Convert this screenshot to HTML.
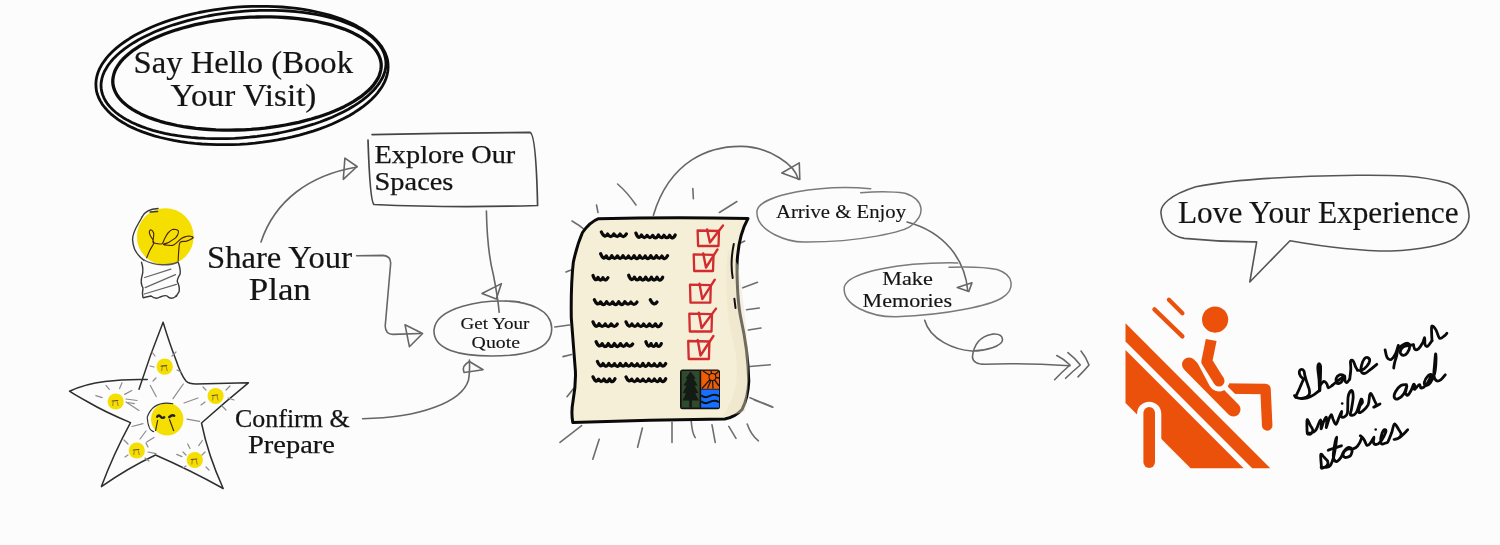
<!DOCTYPE html>
<html><head><meta charset="utf-8">
<style>
html,body{margin:0;padding:0;background:#fcfcfc;}
body{width:1500px;height:545px;overflow:hidden;}
svg{display:block;will-change:transform;}
.t{font-family:"Liberation Serif",serif;fill:#141414;stroke:#141414;stroke-width:0.35px;}
</style></head>
<body>
<svg width="1500" height="545" viewBox="0 0 1500 545">
<g fill="none" stroke="#0d0d0d" stroke-linejoin="round">
<path d="M381.2 64.1 L381.2 67.1 L380.8 70.0 L380.1 73.0 L379.1 75.9 L377.6 78.9 L375.8 81.8 L373.7 84.8 L371.2 87.7 L368.3 90.5 L365.1 93.3 L361.7 96.1 L357.8 98.7 L353.7 101.4 L349.3 103.9 L344.6 106.4 L339.7 108.7 L334.5 111.0 L329.0 113.2 L323.4 115.2 L317.5 117.2 L311.4 119.0 L305.1 120.7 L298.7 122.3 L292.2 123.7 L285.5 125.0 L278.7 126.2 L271.8 127.2 L264.9 128.1 L257.9 128.8 L250.9 129.4 L243.9 129.8 L236.9 130.0 L229.9 130.1 L222.9 130.1 L216.0 129.9 L209.3 129.5 L202.6 129.0 L196.0 128.4 L189.6 127.5 L183.3 126.6 L177.2 125.5 L171.3 124.2 L165.6 122.8 L160.1 121.3 L154.9 119.6 L149.9 117.9 L145.2 115.9 L140.7 113.9 L136.6 111.8 L132.8 109.6 L129.2 107.2 L126.0 104.8 L123.1 102.3 L120.6 99.7 L118.4 97.0 L116.6 94.3 L115.1 91.5 L114.0 88.7 L113.2 85.8 L112.8 82.9 L112.8 79.9 L113.2 77.0 L113.9 74.0 L114.9 71.1 L116.4 68.1 L118.2 65.2 L120.3 62.2 L122.8 59.3 L125.7 56.5 L128.9 53.7 L132.3 50.9 L136.2 48.3 L140.3 45.6 L144.7 43.1 L149.4 40.6 L154.3 38.3 L159.5 36.0 L165.0 33.8 L170.6 31.8 L176.5 29.8 L182.6 28.0 L188.9 26.3 L195.3 24.7 L201.8 23.3 L208.5 22.0 L215.3 20.8 L222.2 19.8 L229.1 18.9 L236.1 18.2 L243.1 17.6 L250.1 17.2 L257.1 17.0 L264.1 16.9 L271.1 16.9 L278.0 17.1 L284.7 17.5 L291.4 18.0 L298.0 18.6 L304.4 19.5 L310.7 20.4 L316.8 21.5 L322.7 22.8 L328.4 24.2 L333.9 25.7 L339.1 27.4 L344.1 29.1 L348.8 31.1 L353.3 33.1 L357.4 35.2 L361.2 37.4 L364.8 39.8 L368.0 42.2 L370.9 44.7 L373.4 47.3 L375.6 50.0 L377.4 52.7 L378.9 55.5 L380.0 58.3 L380.8 61.2 Z" stroke-width="3.3"/>
<path d="M385.8 60.8 L386.0 64.1 L385.7 67.4 L385.0 70.8 L384.0 74.1 L382.6 77.5 L380.7 80.8 L378.6 84.2 L376.0 87.5 L373.1 90.8 L369.8 94.0 L366.2 97.2 L362.2 100.3 L357.9 103.3 L353.3 106.3 L348.4 109.2 L343.2 111.9 L337.8 114.6 L332.1 117.2 L326.1 119.6 L319.9 122.0 L313.5 124.2 L306.9 126.2 L300.1 128.1 L293.2 129.9 L286.2 131.5 L279.0 133.0 L271.7 134.3 L264.4 135.4 L257.0 136.4 L249.5 137.2 L242.1 137.8 L234.6 138.3 L227.2 138.6 L219.8 138.7 L212.5 138.6 L205.3 138.4 L198.1 138.0 L191.1 137.4 L184.3 136.6 L177.6 135.7 L171.0 134.6 L164.7 133.3 L158.6 131.9 L152.7 130.3 L147.1 128.5 L141.8 126.6 L136.7 124.6 L131.9 122.4 L127.4 120.1 L123.2 117.7 L119.4 115.2 L115.9 112.5 L112.8 109.8 L110.0 106.9 L107.6 104.0 L105.5 100.9 L103.9 97.8 L102.6 94.7 L101.7 91.5 L101.2 88.2 L101.0 84.9 L101.3 81.6 L102.0 78.2 L103.0 74.9 L104.4 71.5 L106.3 68.2 L108.4 64.8 L111.0 61.5 L113.9 58.2 L117.2 55.0 L120.8 51.8 L124.8 48.7 L129.1 45.7 L133.7 42.7 L138.6 39.8 L143.8 37.1 L149.2 34.4 L154.9 31.8 L160.9 29.4 L167.1 27.0 L173.5 24.8 L180.1 22.8 L186.9 20.9 L193.8 19.1 L200.8 17.5 L208.0 16.0 L215.3 14.7 L222.6 13.6 L230.0 12.6 L237.5 11.8 L244.9 11.2 L252.4 10.7 L259.8 10.4 L267.2 10.3 L274.5 10.4 L281.7 10.6 L288.9 11.0 L295.9 11.6 L302.7 12.4 L309.4 13.3 L316.0 14.4 L322.3 15.7 L328.4 17.1 L334.3 18.7 L339.9 20.5 L345.2 22.4 L350.3 24.4 L355.1 26.6 L359.6 28.9 L363.8 31.3 L367.6 33.8 L371.1 36.5 L374.2 39.2 L377.0 42.1 L379.4 45.0 L381.5 48.1 L383.1 51.2 L384.4 54.3 L385.3 57.5 Z" stroke-width="2.8"/>
<path d="M388.0 64.0 L388.1 67.6 L387.8 71.2 L387.1 74.8 L386.0 78.5 L384.5 82.1 L382.6 85.7 L380.3 89.2 L377.6 92.8 L374.6 96.3 L371.2 99.7 L367.4 103.1 L363.3 106.3 L358.9 109.5 L354.1 112.7 L349.1 115.7 L343.7 118.6 L338.1 121.3 L332.2 124.0 L326.1 126.5 L319.7 128.9 L313.1 131.1 L306.3 133.2 L299.4 135.1 L292.2 136.9 L285.0 138.5 L277.6 139.9 L270.2 141.1 L262.6 142.2 L255.0 143.1 L247.4 143.8 L239.7 144.3 L232.1 144.6 L224.5 144.7 L216.9 144.7 L209.4 144.4 L202.0 144.0 L194.7 143.4 L187.5 142.6 L180.5 141.6 L173.6 140.4 L167.0 139.0 L160.5 137.5 L154.3 135.8 L148.3 133.9 L142.5 131.9 L137.1 129.7 L131.9 127.4 L127.0 124.9 L122.4 122.3 L118.2 119.6 L114.3 116.7 L110.8 113.8 L107.6 110.7 L104.8 107.5 L102.3 104.3 L100.3 100.9 L98.6 97.5 L97.3 94.1 L96.4 90.6 L96.0 87.0 L95.9 83.4 L96.2 79.8 L96.9 76.2 L98.0 72.5 L99.5 68.9 L101.4 65.3 L103.7 61.8 L106.4 58.2 L109.4 54.7 L112.8 51.3 L116.6 47.9 L120.7 44.7 L125.1 41.5 L129.9 38.3 L134.9 35.3 L140.3 32.4 L145.9 29.7 L151.8 27.0 L157.9 24.5 L164.3 22.1 L170.9 19.9 L177.7 17.8 L184.6 15.9 L191.8 14.1 L199.0 12.5 L206.4 11.1 L213.8 9.9 L221.4 8.8 L229.0 7.9 L236.6 7.2 L244.3 6.7 L251.9 6.4 L259.5 6.3 L267.1 6.3 L274.6 6.6 L282.0 7.0 L289.3 7.6 L296.5 8.4 L303.5 9.4 L310.4 10.6 L317.0 12.0 L323.5 13.5 L329.7 15.2 L335.7 17.1 L341.5 19.1 L346.9 21.3 L352.1 23.6 L357.0 26.1 L361.6 28.7 L365.8 31.4 L369.7 34.3 L373.2 37.2 L376.4 40.3 L379.2 43.5 L381.7 46.7 L383.7 50.1 L385.4 53.5 L386.7 56.9 L387.6 60.4 Z" stroke-width="2.8"/>
</g>
<g fill="none" stroke="#666" stroke-width="1.6" stroke-linecap="round" stroke-linejoin="round">
<path d="M261 242 C275 200 310 175 357 167"/>
<path d="M344.9 158.1 L357 166.5 L343.3 179.3 Z"/>
<path d="M356.6 255.8 L383 255.4 Q390.7 256 390.7 263 L385.2 326 Q385.5 334.4 393 334.4 L420.4 333.5"/>
<path d="M405 324.7 L422.6 333.5 L409.4 346.7 Z"/>
<path d="M486.4 211 C487 240 490 262 493.4 275 C496 288 498 300 499.2 312.3"/>
<path d="M482 293.5 L501.4 283.6 L496.3 299 Z"/>
<path d="M362.6 418.7 C420 418 462 402 468.5 380 C470 372 469.6 366 469.4 360"/>
<path d="M469.4 361.5 L483.1 369.7 L464 372.5 Q461 366 469.4 361.5 Z"/>
<path d="M653.4 215.2 C670 160 710 146 741.5 146.4 C770 147 795 165 798.3 179.4"/>
<path d="M781.8 173 L799.3 162.9 L799.8 179.4 Z"/>
<path d="M907 222 C945 232 965 260 967.7 290.4"/>
<path d="M957.3 287.5 L972 282.7 L968.8 291.5 Z"/>
<path d="M924.7 320.3 C930 340 955 350 972 351 C985 351 1003 346 1002.5 339.4 C1002 333 995 334 992 334.2 C982 336 974 342 972.4 357 C973 363 978 364.3 985 364.3 C1010 363 1040 364 1070 365.8"/>
<path d="M1056.8 355.5 Q1064 359 1070 365 Q1062 372 1054.6 379.7"/>
<path d="M1067.9 352.6 Q1075 358 1080.3 365 Q1072 372 1065.6 378.3"/>
<path d="M1081 351 Q1086 357 1089 365 Q1084 371 1078 376.8"/>
</g>
<path d="M372 134.6 Q450 133 530 132.4 Q536 134 537.6 205.5 Q450 208 374 204.5 Q370 202 368 140" fill="none" stroke="#454545" stroke-width="1.7" stroke-linecap="round"/>
<path fill="none" stroke="#666" stroke-width="1.6" stroke-linecap="round" stroke-linejoin="round" d="M520 302 C480 298 436 308 434 330 C433 350 460 356 492 356 C530 356 552 348 551.7 328 C551 310 530 302 505 301"/>
<path fill="none" stroke="#7a7a7a" stroke-width="1.5" stroke-linecap="round" d="M870.7 188.7 C820 184 760 195 757 210.7 C755 232 790 243 806.7 242 C860 242 905 232 912 225 C925 215 925 200 905 193.3 C890 191 870 192 860.7 192.7"/>
<path fill="none" stroke="#7a7a7a" stroke-width="1.5" stroke-linecap="round" d="M957.8 262.9 C900 262 848 272 844.3 287 C842 305 870 317 896 316.8 C950 315 990 305 1001.8 298 C1015 290 1015 275 997 269.5 C980 266 960 267 949 267.3"/>
<path fill="none" stroke="#555" stroke-width="1.6" stroke-linejoin="round" d="M1195.9 186.8 C1170 195 1160 205 1161 213.2 C1162 228 1172 236 1184.4 238.4 C1210 241 1235 242 1256.7 241.9 L1249.8 282 L1290 240.7 C1320 246 1360 251 1390.9 251 C1420 250 1445 245 1455 238.4 C1466 230 1470 222 1468.9 214.3 C1468 200 1460 188 1448 183.3 C1420 175 1390 175 1356.5 175.3 C1300 176 1240 178 1195.9 186.8 Z"/>
<g>
<circle cx="165.3" cy="236.6" r="28.4" fill="#f5df00"/>
<g fill="none" stroke="#3a3a3a" stroke-width="1.4" stroke-linecap="round">
<path d="M142.2 216.7 C138 225 132 232 132.6 240 C133 250 138 256 144.1 260.4"/>
<path d="M142.2 216.7 C145 211 150 209 158 208.5"/>
<path d="M150 212 L157.6 211.5"/>
<path d="M146.7 257.8 C147.2 256.5 148.8 252.6 150.0 250.0 C151.2 247.4 153.7 244.7 153.8 242.4 C153.9 240.1 151.2 237.7 150.5 236.0 C149.8 234.3 149.2 233.1 149.3 232.1 C149.4 231.1 150.1 229.7 150.8 229.8 C151.5 230.0 153.2 231.6 153.6 233.0 C154.0 234.4 153.5 236.4 153.4 238.0 C153.3 239.6 152.5 241.5 153.1 242.4 C153.7 243.3 155.5 243.4 157.0 243.6 C158.5 243.8 160.8 244.5 162.1 243.7 C163.4 242.8 163.7 240.3 164.7 238.5 C165.7 236.7 166.7 234.5 168.0 233.0 C169.3 231.5 170.7 229.9 172.4 229.5 C174.1 229.1 177.6 229.5 178.2 230.8 C178.8 232.1 177.8 235.3 176.2 237.2 C174.6 239.1 170.6 241.2 168.5 242.4 C166.4 243.6 163.5 243.8 163.4 244.3 C163.3 244.8 166.3 245.1 168.0 245.2 C169.7 245.3 171.5 246.1 173.7 245.0 C175.9 243.9 179.3 239.9 181.4 238.5 C183.5 237.1 184.5 236.9 186.0 236.5 C187.5 236.1 189.2 236.1 190.4 236.3 C191.6 236.5 193.7 237.1 193.0 237.9 C192.3 238.7 188.7 240.3 186.5 241.1 C184.3 241.8 181.4 240.9 180.1 242.4 C178.8 243.9 179.1 247.0 178.8 250.0 C178.5 253.0 178.3 258.7 178.2 260.4" stroke="#4a2410" stroke-width="1.15"/>
<path d="M144 260 C155 266 170 266 178 262" stroke="#555"/>
<path d="M141.5 262.3 Q144 270 142 276 Q140 283 143 288 Q142 293 142.9 297.2"/>
<path d="M178.2 262.3 Q181 270 180 274.3 Q177 279 177.3 281.6 Q180 287 179.1 291.7 Q177 295 176.4 296.3"/>
<path d="M144.7 277.5 L170.9 269.2 M145.2 287.6 L175.5 274.7 M144.3 294 L176.4 284.4" stroke="#666" stroke-width="1.3"/>
<path d="M143.3 297.7 Q150 296 151 296 Q156 300 160 297 Q166 295 167 296 Q171 300 175 297 L176.4 295.4"/>
</g></g>
<path d="M163.1 322.3 Q170 345 176 360 Q181 375 186 381 Q189 384 196 384 Q222 383.5 248.4 382.8 Q225 402 201.5 423 Q208 455 223.2 488.5 Q190 470 155.5 455 Q128 468 101.4 486.6 Q113 455 130.5 422.6 Q105 412 88 402 Q75 395 69.5 391.2 Q85 384 105 381.5 Q125 379 147.2 379.6 M163.1 322.3 Q150 355 139 389.3" fill="none" stroke="#2e2e2e" stroke-width="1.5" stroke-linecap="round" stroke-linejoin="round"/>
<circle cx="167.2" cy="419.2" r="16.2" fill="#f5df00"/>
<path d="M173.2 403.7 Q153.2 400.2 147.2 417.2 Q148.2 431.2 154.2 431.7" fill="none" stroke="#333" stroke-width="1.1"/>
<path d="M157.2 416.7 Q158.7 414.2 160.7 416.7 Q162.2 418.7 164.2 417.2 M169.2 417.2 Q172.2 414.2 174.2 415.7" fill="none" stroke="#222" stroke-width="2.4" stroke-linecap="round"/>
<path d="M157.7 420.0 L155.5 431.0 M169.39999999999998 419.2 L173.79999999999998 431.0" fill="none" stroke="#3a2a10" stroke-width="1.2"/>
<circle cx="164.7" cy="366.6" r="8.2" fill="#f5df00"/>
<path d="M161.2 366.1 L166.7 365.6" fill="none" stroke="#5a4a30" stroke-width="1.2" stroke-linecap="round"/><path d="M162.2 366.6 L161.7 371.1 M166.2 366.6 L167.2 371.1" fill="none" stroke="#7a5a30" stroke-width="0.7"/>
<circle cx="115.7" cy="401.5" r="8.1" fill="#f5df00"/>
<path d="M112.2 401.0 L117.7 400.5" fill="none" stroke="#5a4a30" stroke-width="1.2" stroke-linecap="round"/><path d="M113.2 401.5 L112.7 406.0 M117.2 401.5 L118.2 406.0" fill="none" stroke="#7a5a30" stroke-width="0.7"/>
<circle cx="215.6" cy="396" r="8.1" fill="#f5df00"/>
<path d="M212.1 395.5 L217.6 395" fill="none" stroke="#5a4a30" stroke-width="1.2" stroke-linecap="round"/><path d="M213.1 396 L212.6 400.5 M217.1 396 L218.1 400.5" fill="none" stroke="#7a5a30" stroke-width="0.7"/>
<circle cx="136.8" cy="450.5" r="8.1" fill="#f5df00"/>
<path d="M133.3 450.0 L138.8 449.5" fill="none" stroke="#5a4a30" stroke-width="1.2" stroke-linecap="round"/><path d="M134.3 450.5 L133.8 455.0 M138.3 450.5 L139.3 455.0" fill="none" stroke="#7a5a30" stroke-width="0.7"/>
<circle cx="194.8" cy="460" r="8.1" fill="#f5df00"/>
<path d="M191.3 459.5 L196.8 459" fill="none" stroke="#5a4a30" stroke-width="1.2" stroke-linecap="round"/><path d="M192.3 460 L191.8 464.5 M196.3 460 L197.3 464.5" fill="none" stroke="#7a5a30" stroke-width="0.7"/>
<line x1="132" y1="426.5" x2="143" y2="423.6" stroke="#8c8c8c" stroke-width="1.2" stroke-linecap="round"/>
<line x1="140" y1="439" x2="146" y2="431" stroke="#8c8c8c" stroke-width="1.2" stroke-linecap="round"/>
<line x1="146.7" y1="442" x2="154" y2="437.5" stroke="#8c8c8c" stroke-width="1.2" stroke-linecap="round"/>
<line x1="187" y1="419.2" x2="199.5" y2="421.4" stroke="#8c8c8c" stroke-width="1.2" stroke-linecap="round"/>
<line x1="187.7" y1="444" x2="190" y2="448.5" stroke="#8c8c8c" stroke-width="1.2" stroke-linecap="round"/>
<line x1="198.7" y1="445.6" x2="202.4" y2="440.5" stroke="#8c8c8c" stroke-width="1.2" stroke-linecap="round"/>
<line x1="148" y1="452" x2="156" y2="453.7" stroke="#8c8c8c" stroke-width="1.2" stroke-linecap="round"/>
<line x1="176.7" y1="454.4" x2="182" y2="456.6" stroke="#8c8c8c" stroke-width="1.2" stroke-linecap="round"/>
<line x1="126" y1="402" x2="139" y2="410.4" stroke="#8c8c8c" stroke-width="1.2" stroke-linecap="round"/>
<line x1="126" y1="399" x2="137" y2="400.5" stroke="#8c8c8c" stroke-width="1.2" stroke-linecap="round"/>
<line x1="184" y1="403" x2="198" y2="398" stroke="#8c8c8c" stroke-width="1.2" stroke-linecap="round"/>
<line x1="150.3" y1="385.5" x2="156.2" y2="396.5" stroke="#8c8c8c" stroke-width="1.2" stroke-linecap="round"/>
<line x1="183.3" y1="384" x2="173" y2="398.7" stroke="#8c8c8c" stroke-width="1.2" stroke-linecap="round"/>
<line x1="95.8" y1="395.7" x2="102.2" y2="397.6" stroke="#8c8c8c" stroke-width="1.2" stroke-linecap="round"/>
<line x1="106" y1="385.4" x2="109.3" y2="389.3" stroke="#8c8c8c" stroke-width="1.2" stroke-linecap="round"/>
<line x1="122" y1="382.8" x2="119.6" y2="388.6" stroke="#8c8c8c" stroke-width="1.2" stroke-linecap="round"/>
<line x1="131.8" y1="390.5" x2="124.7" y2="394.4" stroke="#8c8c8c" stroke-width="1.2" stroke-linecap="round"/>
<line x1="127.9" y1="402.5" x2="134.3" y2="403.6" stroke="#8c8c8c" stroke-width="1.2" stroke-linecap="round"/>
<line x1="152" y1="352" x2="155" y2="356" stroke="#8c8c8c" stroke-width="1.2" stroke-linecap="round"/>
<line x1="176" y1="352" x2="172" y2="356" stroke="#8c8c8c" stroke-width="1.2" stroke-linecap="round"/>
<line x1="156" y1="378" x2="153" y2="381" stroke="#8c8c8c" stroke-width="1.2" stroke-linecap="round"/>
<line x1="177" y1="370" x2="181" y2="372" stroke="#8c8c8c" stroke-width="1.2" stroke-linecap="round"/>
<line x1="150" y1="366" x2="154" y2="367" stroke="#8c8c8c" stroke-width="1.2" stroke-linecap="round"/>
<line x1="203" y1="387" x2="206" y2="390" stroke="#8c8c8c" stroke-width="1.2" stroke-linecap="round"/>
<line x1="230" y1="386" x2="226" y2="390" stroke="#8c8c8c" stroke-width="1.2" stroke-linecap="round"/>
<line x1="228" y1="398" x2="234" y2="400" stroke="#8c8c8c" stroke-width="1.2" stroke-linecap="round"/>
<line x1="205" y1="402" x2="201" y2="405" stroke="#8c8c8c" stroke-width="1.2" stroke-linecap="round"/>
<line x1="222" y1="406" x2="226" y2="410" stroke="#8c8c8c" stroke-width="1.2" stroke-linecap="round"/>
<line x1="124" y1="440" x2="128" y2="444" stroke="#8c8c8c" stroke-width="1.2" stroke-linecap="round"/>
<line x1="148" y1="447" x2="146" y2="443" stroke="#8c8c8c" stroke-width="1.2" stroke-linecap="round"/>
<line x1="125" y1="457" x2="128" y2="455" stroke="#8c8c8c" stroke-width="1.2" stroke-linecap="round"/>
<line x1="145" y1="458" x2="149" y2="461" stroke="#8c8c8c" stroke-width="1.2" stroke-linecap="round"/>
<line x1="183" y1="452" x2="186" y2="455" stroke="#8c8c8c" stroke-width="1.2" stroke-linecap="round"/>
<line x1="205" y1="452" x2="202" y2="455" stroke="#8c8c8c" stroke-width="1.2" stroke-linecap="round"/>
<line x1="183" y1="468" x2="186" y2="466" stroke="#8c8c8c" stroke-width="1.2" stroke-linecap="round"/>
<line x1="206" y1="467" x2="209" y2="470" stroke="#8c8c8c" stroke-width="1.2" stroke-linecap="round"/>
<path d="M617.6 184 Q627 192 636 205" fill="none" stroke="#6e6e6e" stroke-width="1.6" stroke-linecap="round"/>
<line x1="596.5" y1="205" x2="598" y2="212.5" stroke="#6e6e6e" stroke-width="1.6" stroke-linecap="round"/>
<line x1="692.8" y1="188.6" x2="693.4" y2="198.7" stroke="#6e6e6e" stroke-width="1.6" stroke-linecap="round"/>
<line x1="719.4" y1="212.5" x2="736.9" y2="201.5" stroke="#6e6e6e" stroke-width="1.6" stroke-linecap="round"/>
<line x1="554.8" y1="327" x2="569.5" y2="325" stroke="#6e6e6e" stroke-width="1.6" stroke-linecap="round"/>
<line x1="563" y1="356.6" x2="571.6" y2="354.5" stroke="#6e6e6e" stroke-width="1.6" stroke-linecap="round"/>
<line x1="567" y1="396.7" x2="574" y2="388" stroke="#6e6e6e" stroke-width="1.6" stroke-linecap="round"/>
<line x1="581.6" y1="425.6" x2="560" y2="442.4" stroke="#6e6e6e" stroke-width="1.6" stroke-linecap="round"/>
<line x1="599.2" y1="439.2" x2="592.8" y2="459.2" stroke="#6e6e6e" stroke-width="1.6" stroke-linecap="round"/>
<line x1="642.4" y1="428" x2="637.6" y2="447.2" stroke="#6e6e6e" stroke-width="1.6" stroke-linecap="round"/>
<line x1="672" y1="422.4" x2="672" y2="442.4" stroke="#6e6e6e" stroke-width="1.6" stroke-linecap="round"/>
<path d="M691.2 420.8 Q692 433 695.2 437.6" fill="none" stroke="#6e6e6e" stroke-width="1.6" stroke-linecap="round"/>
<line x1="712" y1="424.8" x2="715.2" y2="442.4" stroke="#6e6e6e" stroke-width="1.6" stroke-linecap="round"/>
<line x1="728.8" y1="426.4" x2="736" y2="438.4" stroke="#6e6e6e" stroke-width="1.6" stroke-linecap="round"/>
<path d="M747.2 424 Q751 435 758.4 440.8" fill="none" stroke="#6e6e6e" stroke-width="1.6" stroke-linecap="round"/>
<line x1="754.4" y1="400" x2="772.8" y2="407.2" stroke="#6e6e6e" stroke-width="1.6" stroke-linecap="round"/>
<line x1="739" y1="243.8" x2="744.7" y2="241" stroke="#6e6e6e" stroke-width="1.6" stroke-linecap="round"/>
<line x1="742.8" y1="287.8" x2="757.5" y2="282.3" stroke="#6e6e6e" stroke-width="1.6" stroke-linecap="round"/>
<line x1="746.5" y1="309.7" x2="759.3" y2="308" stroke="#6e6e6e" stroke-width="1.6" stroke-linecap="round"/>
<line x1="748.3" y1="330" x2="761" y2="328" stroke="#6e6e6e" stroke-width="1.6" stroke-linecap="round"/>
<line x1="750" y1="366.5" x2="770.3" y2="364.7" stroke="#6e6e6e" stroke-width="1.6" stroke-linecap="round"/>
<line x1="750" y1="397.7" x2="772" y2="406.8" stroke="#6e6e6e" stroke-width="1.6" stroke-linecap="round"/>
<line x1="566" y1="272" x2="571" y2="270" stroke="#6e6e6e" stroke-width="1.6" stroke-linecap="round"/>
<path d="M572 221 Q579 225 585 230" fill="none" stroke="#6e6e6e" stroke-width="1.6" stroke-linecap="round"/>
<path d="M598.5 218.7 Q670 217 748 218.4 Q738 236 737 265 Q737 300 741 319 Q748 350 748.8 381.3 Q748 398 742.1 409.4 Q735 417 724.8 419 Q650 420 572.8 422.4 Q571 412 572.9 402 Q576 385 575.4 371 Q573 340 571.3 318 Q570.8 285 573.3 262.4 Q577 245 582.5 232.5 Q590 222 598.5 218.7 Z" fill="#f6efd8" stroke="#0a0a0a" stroke-width="3" stroke-linejoin="round"/>
<path d="M728 250 Q722 300 735 350 Q742 390 722 417 L745 412 Q750 380 748 350 Q744 300 738 265 Z" fill="#ebe3c6" opacity="0.45"/>
<path d="M733.8 244 Q730 262 732.7 278 M734.4 298.8 L735.5 308" fill="none" stroke="#111" stroke-width="2" stroke-linecap="round"/>
<path d="M601.3 231.9 Q604.4 238.8 607.6 234.1 Q610.7 239.1 613.8 234.0 Q617.0 238.9 620.1 234.1 Q623.3 239.2 626.4 233.9" fill="none" stroke="#0a0a0a" stroke-width="3.3" stroke-linecap="round" stroke-linejoin="round"/>
<path d="M635.9 233.1 Q638.7 240.4 641.5 235.1 Q644.3 239.8 647.1 235.4 Q649.9 239.7 652.7 235.4 Q655.5 240.6 658.4 235.0 Q661.2 240.0 664.0 235.3 Q666.8 240.0 669.6 235.3 Q672.4 240.8 675.2 235.0" fill="none" stroke="#0a0a0a" stroke-width="3.3" stroke-linecap="round" stroke-linejoin="round"/>
<path d="M600.7 253.8 Q603.5 260.9 606.3 255.9 Q609.0 261.3 611.8 255.7 Q614.6 260.9 617.4 255.9 Q620.2 261.1 623.0 255.8 Q625.8 260.6 628.5 256.1 Q631.3 261.1 634.1 255.8 Q636.9 261.3 639.7 255.7 Q642.5 261.0 645.2 255.9 Q648.0 261.2 650.8 255.8 Q653.6 261.1 656.4 255.8 Q659.1 260.5 661.9 256.1 Q664.7 261.2 667.5 255.8" fill="none" stroke="#0a0a0a" stroke-width="3.3" stroke-linecap="round" stroke-linejoin="round"/>
<path d="M593.0 275.5 Q595.5 282.7 598.0 277.5 Q600.5 282.4 602.9 277.7 Q605.4 282.2 607.9 277.8" fill="none" stroke="#0a0a0a" stroke-width="3.3" stroke-linecap="round" stroke-linejoin="round"/>
<path d="M628.7 275.3 Q631.5 282.8 634.4 277.2 Q637.2 282.4 640.0 277.4 Q642.9 282.7 645.7 277.3 Q648.5 282.8 651.4 277.2 Q654.2 282.7 657.0 277.3 Q659.9 282.9 662.7 277.2" fill="none" stroke="#0a0a0a" stroke-width="3.3" stroke-linecap="round" stroke-linejoin="round"/>
<path d="M594.4 299.8 Q597.4 306.8 600.5 301.9 Q603.5 307.3 606.6 301.7 Q609.6 306.9 612.7 301.9 Q615.7 307.4 618.7 301.7 Q621.8 307.3 624.8 301.7 Q627.9 306.5 630.9 302.1 Q634.0 306.6 637.0 302.1" fill="none" stroke="#0a0a0a" stroke-width="3.3" stroke-linecap="round" stroke-linejoin="round"/>
<path d="M650.3 299.8 Q653.6 306.7 657.0 302.0" fill="none" stroke="#0a0a0a" stroke-width="3.3" stroke-linecap="round" stroke-linejoin="round"/>
<path d="M593.0 321.9 Q596.0 329.5 599.1 323.8 Q602.1 329.0 605.2 324.0 Q608.2 329.2 611.2 323.9 Q614.3 328.8 617.3 324.1" fill="none" stroke="#0a0a0a" stroke-width="3.3" stroke-linecap="round" stroke-linejoin="round"/>
<path d="M626.0 321.9 Q628.9 329.1 631.9 324.0 Q634.8 328.9 637.8 324.0 Q640.7 328.9 643.6 324.1 Q646.6 329.1 649.5 323.9 Q652.5 329.1 655.4 323.9 Q658.4 329.5 661.3 323.8" fill="none" stroke="#0a0a0a" stroke-width="3.3" stroke-linecap="round" stroke-linejoin="round"/>
<path d="M596.1 341.7 Q599.1 349.0 602.2 343.7 Q605.2 349.3 608.3 343.6 Q611.4 349.2 614.4 343.6 Q617.5 349.4 620.5 343.6 Q623.5 349.0 626.6 343.7 Q629.6 348.5 632.7 344.0" fill="none" stroke="#0a0a0a" stroke-width="3.3" stroke-linecap="round" stroke-linejoin="round"/>
<path d="M645.9 341.7 Q648.5 349.2 651.0 343.6 Q653.6 349.3 656.2 343.6 Q658.7 349.3 661.3 343.6" fill="none" stroke="#0a0a0a" stroke-width="3.3" stroke-linecap="round" stroke-linejoin="round"/>
<path d="M597.4 361.5 Q600.2 368.7 603.1 363.6 Q605.9 368.9 608.8 363.5 Q611.6 368.4 614.5 363.7 Q617.3 369.0 620.2 363.4 Q623.0 368.7 625.9 363.6 Q628.7 368.4 631.6 363.7 Q634.4 368.2 637.2 363.8 Q640.1 369.0 642.9 363.4 Q645.8 369.2 648.6 363.4 Q651.5 368.2 654.3 363.8 Q657.2 369.0 660.0 363.4 Q662.9 368.6 665.7 363.6" fill="none" stroke="#0a0a0a" stroke-width="3.3" stroke-linecap="round" stroke-linejoin="round"/>
<path d="M593.0 376.9 Q595.8 383.7 598.5 379.2 Q601.2 383.8 604.0 379.1 Q606.8 384.3 609.5 378.9 Q612.2 384.4 615.0 378.8" fill="none" stroke="#0a0a0a" stroke-width="3.3" stroke-linecap="round" stroke-linejoin="round"/>
<path d="M626.0 376.9 Q628.8 383.6 631.7 379.2 Q634.5 384.2 637.3 378.9 Q640.2 383.6 643.0 379.2 Q645.9 384.3 648.7 378.9 Q651.5 383.9 654.4 379.1 Q657.2 384.4 660.0 378.8 Q662.9 384.5 665.7 378.8" fill="none" stroke="#0a0a0a" stroke-width="3.3" stroke-linecap="round" stroke-linejoin="round"/>
<path d="M697.6 230.5 L719 231.0 L718.5 246 L698.1 246 Z" fill="none" stroke="#d22c2e" stroke-width="2.3" stroke-linejoin="round"/>
<path d="M707.1 229.5 L709.9 242.5 L723 225.5" fill="none" stroke="#d22c2e" stroke-width="2.4" stroke-linecap="round" stroke-linejoin="round"/>
<path d="M693.7 254.4 L713.5 254.9 L713.0 271 L694.2 271 Z" fill="none" stroke="#d22c2e" stroke-width="2.3" stroke-linejoin="round"/>
<path d="M703.2 253.4 L706.0 267.5 L717.5 249.4" fill="none" stroke="#d22c2e" stroke-width="2.4" stroke-linecap="round" stroke-linejoin="round"/>
<path d="M690 284.7 L710.8 285.2 L710.3 302.6 L690.5 302.6 Z" fill="none" stroke="#d22c2e" stroke-width="2.3" stroke-linejoin="round"/>
<path d="M699.5 283.7 L702.3 299.1 L714.8 279.7" fill="none" stroke="#d22c2e" stroke-width="2.4" stroke-linecap="round" stroke-linejoin="round"/>
<path d="M689.3 313.6 L712 314.1 L711.5 331.5 L689.8 331.5 Z" fill="none" stroke="#d22c2e" stroke-width="2.3" stroke-linejoin="round"/>
<path d="M698.8 312.6 L701.5999999999999 328.0 L716 308.6" fill="none" stroke="#d22c2e" stroke-width="2.4" stroke-linecap="round" stroke-linejoin="round"/>
<path d="M688.2 341 L709.4 341.5 L708.9 359 L688.7 359 Z" fill="none" stroke="#d22c2e" stroke-width="2.3" stroke-linejoin="round"/>
<path d="M697.7 340 L700.5 355.5 L713.4 336" fill="none" stroke="#d22c2e" stroke-width="2.4" stroke-linecap="round" stroke-linejoin="round"/>
<g>
<rect x="680" y="369.4" width="40" height="39.8" rx="2.5" fill="#111"/>
<rect x="681.6" y="371" width="18" height="36.6" fill="#2f4a2c"/>
<path d="M690.6 371.5 L685.5 378.5 L687.5 378.8 L683.6 385.5 L686.6 385.8 L682.8 393 L686 393.3 L682.5 400.5 L689.3 400.5 L689.3 407.6 L691.9 407.6 L691.9 400.5 L698.8 400.5 L695.2 393.3 L698.4 393 L694.6 385.8 L697.6 385.5 L693.7 378.8 L695.7 378.5 Z" fill="#141a14"/>
<rect x="701.2" y="370.8" width="17.8" height="18" fill="#f25d04"/>
<path d="M712.4 377 L702 388.5 M712.4 377 L707.5 388.5 M712.4 377 L713 388.5 M712.4 377 L719 386 M712.4 377 L719 378 M712.4 377 L719 371 M712.4 377 L711 370.8 M712.4 377 L703 371" stroke="#1a1a1a" stroke-width="1.3"/>
<circle cx="712.4" cy="377" r="3.9" fill="#1a1a1a"/>
<circle cx="712.4" cy="377" r="2.9" fill="#f25d04"/>
<rect x="701.2" y="389.6" width="17.8" height="18" fill="#1570ff"/>
<path d="M701.2 395.2 Q705 398.5 709.5 396.2 Q714 393.5 719 396.2 M701.2 401.2 Q705 404.5 709.5 402.2 Q714 399.5 719 402.2" stroke="#111" stroke-width="2" fill="none"/>
</g>
<g>
<path d="M1125.5 323.3 L1270.3 468.2 L1252.2 468.2 L1125.5 341.5 Z" fill="#ec510c"/>
<path d="M1125.5 350 L1243.7 468.2 L1190.6 468.2 L1125.5 403.1 Z" fill="#ec510c"/>
<rect x="1137" y="401.7" width="24.3" height="80" rx="12.15" fill="#fcfcfc"/>
<rect x="1143.4" y="407.1" width="11.6" height="60.8" rx="5.8" fill="#ec510c"/>
<circle cx="1215.1" cy="319.6" r="13.1" fill="#ec510c"/>
<path d="M1168.9 299.8 L1182.4 313.3 M1154.4 309.4 L1182.4 336.4" stroke="#ec510c" stroke-width="4.3" stroke-linecap="round"/>
<path d="M1222 388.5 L1265.5 389 L1267.2 425.4" stroke="#ec510c" stroke-width="10.5" fill="none" stroke-linecap="round" stroke-linejoin="round"/>
<path d="M1189 364.5 L1233.5 409.5" stroke="#fcfcfc" stroke-width="24" stroke-linecap="round"/>
<path d="M1189 364.5 L1233.5 409.5" stroke="#ec510c" stroke-width="14" stroke-linecap="round"/>
<path d="M1206.8 358 L1219 381" stroke="#fcfcfc" stroke-width="21" fill="none" stroke-linecap="round"/>
<path d="M1211.2 340 L1206.8 361.5 L1219 381" stroke="#ec510c" stroke-width="11" fill="none" stroke-linejoin="round" stroke-linecap="butt"/>
<circle cx="1219" cy="381" r="5.5" fill="#ec510c"/>
</g>

<text class="t" x="133.5" y="73.2" font-size="30.5" style="stroke-width:0.2px" textLength="219.5" lengthAdjust="spacingAndGlyphs">Say Hello (Book</text>
<text class="t" x="170.4" y="105.6" font-size="30.5" style="stroke-width:0.2px" textLength="146.0" lengthAdjust="spacingAndGlyphs">Your Visit)</text>
<text class="t" x="207.0" y="267.8" font-size="30.5" style="stroke-width:0.2px" textLength="145.0" lengthAdjust="spacingAndGlyphs">Share Your</text>
<text class="t" x="248.8" y="299.8" font-size="30.5" style="stroke-width:0.2px" textLength="62.0" lengthAdjust="spacingAndGlyphs">Plan</text>
<text class="t" x="374.6" y="162.5" font-size="25.2" style="stroke-width:0.25px" textLength="140.6" lengthAdjust="spacingAndGlyphs">Explore Our</text>
<text class="t" x="374.6" y="190.2" font-size="25.2" style="stroke-width:0.25px" textLength="78.8" lengthAdjust="spacingAndGlyphs">Spaces</text>
<text class="t" x="460.6" y="329.1" font-size="17.5" style="stroke-width:0.15px" textLength="68.8" lengthAdjust="spacingAndGlyphs">Get Your</text>
<text class="t" x="471.6" y="347.5" font-size="17.5" style="stroke-width:0.15px" textLength="48.4" lengthAdjust="spacingAndGlyphs">Quote</text>
<text class="t" x="235.0" y="426.8" font-size="24.7" style="stroke-width:0.25px" textLength="114.6" lengthAdjust="spacingAndGlyphs">Confirm &amp;</text>
<text class="t" x="248.0" y="452.5" font-size="24.7" style="stroke-width:0.25px" textLength="87.0" lengthAdjust="spacingAndGlyphs">Prepare</text>
<text class="t" x="776.0" y="218.1" font-size="19.5" style="stroke-width:0.15px" textLength="130.0" lengthAdjust="spacingAndGlyphs">Arrive &amp; Enjoy</text>
<text class="t" x="882.2" y="285.2" font-size="19" style="stroke-width:0.15px" textLength="50.6" lengthAdjust="spacingAndGlyphs">Make</text>
<text class="t" x="862.6" y="306.6" font-size="19" style="stroke-width:0.15px" textLength="89.4" lengthAdjust="spacingAndGlyphs">Memories</text>
<text class="t" x="1178.0" y="222.7" font-size="30.5" style="stroke-width:0.2px" textLength="280.6" lengthAdjust="spacingAndGlyphs">Love Your Experience</text>
<g fill="none" stroke="#0a0a0a" stroke-width="2.8" stroke-linecap="round" stroke-linejoin="round"><path d="M1303.6 379.2 C1303.1 378.6 1301.0 376.9 1300.3 375.7 C1299.6 374.4 1299.1 372.7 1299.3 371.6 C1299.5 370.6 1300.5 369.5 1301.3 369.4 C1302.1 369.3 1303.3 369.9 1303.9 370.9 C1304.5 372.0 1304.4 373.7 1304.9 375.7 C1305.4 377.7 1306.2 380.5 1307.0 382.7 C1307.7 385.0 1308.8 387.5 1309.2 389.3 C1309.6 391.2 1309.8 392.6 1309.4 393.8 C1309.0 395.1 1307.9 396.1 1306.6 396.9 C1305.4 397.6 1303.2 398.2 1301.6 398.4 C1300.0 398.5 1298.2 398.3 1297.1 397.8 C1295.9 397.3 1294.7 395.7 1294.5 395.6 C1294.4 395.5 1295.2 396.7 1296.3 397.2 C1297.3 397.7 1299.3 398.5 1301.1 398.6 C1302.9 398.7 1305.1 398.5 1307.2 397.9 C1309.3 397.3 1311.7 396.1 1313.7 394.9 C1315.8 393.6 1318.5 391.2 1319.5 390.5"/><path d="M1303.6 379.2 C1302.9 380.7 1300.9 385.3 1299.6 388.3 C1298.2 391.3 1296.2 395.7 1295.5 397.2"/><path d="M1319.5 390.5 C1319.4 388.8 1319.3 384.0 1319.1 380.2 C1318.8 376.5 1317.9 370.8 1317.8 368.1 C1317.8 365.4 1318.2 364.2 1318.7 363.9 C1319.1 363.5 1320.2 364.0 1320.5 365.9 C1320.8 367.8 1320.6 371.1 1320.5 375.2 C1320.4 379.3 1320.0 388.0 1319.9 390.5"/><path d="M1320.1 385.3 C1320.7 384.6 1322.7 381.7 1323.8 381.4 C1324.9 381.2 1326.1 382.7 1326.8 383.8 C1327.6 384.8 1327.4 387.5 1328.3 387.8 C1329.3 388.0 1331.7 385.7 1332.4 385.3"/><path d="M1332.4 385.3 C1333.2 384.6 1335.5 382.6 1337.4 381.0 C1339.3 379.5 1343.3 377.0 1343.7 376.0 C1344.0 374.9 1340.9 374.4 1339.6 374.8 C1338.4 375.2 1336.6 377.0 1336.2 378.4 C1335.8 379.8 1336.1 382.6 1337.0 383.3 C1337.9 383.9 1340.2 383.3 1341.5 382.0 C1342.7 380.8 1343.9 376.2 1344.5 376.0 C1345.1 375.8 1344.7 380.0 1345.1 381.0 C1345.5 382.1 1346.2 382.7 1347.0 382.4 C1347.8 382.1 1349.3 379.8 1349.7 379.2"/><path d="M1349.7 379.2 C1349.9 377.5 1350.7 372.1 1350.8 369.1 C1351.0 366.1 1350.2 362.6 1350.5 361.3 C1350.9 359.9 1352.3 360.0 1353.1 360.9 C1353.9 361.7 1354.7 364.8 1355.4 366.3 C1356.1 367.8 1357.1 369.5 1357.4 370.1"/><path d="M1357.4 370.1 C1358.1 370.2 1360.1 371.0 1361.6 370.3 C1363.2 369.7 1365.5 367.7 1366.9 366.1 C1368.2 364.5 1369.6 362.3 1369.7 360.9 C1369.8 359.4 1368.6 357.9 1367.7 357.6 C1366.8 357.3 1365.2 357.8 1364.2 359.0 C1363.2 360.3 1362.1 363.1 1361.6 365.1 C1361.1 367.1 1360.6 369.8 1361.1 371.1 C1361.7 372.5 1363.3 373.7 1364.9 373.4 C1366.5 373.1 1368.7 370.8 1370.7 369.3 C1372.7 367.8 1375.8 365.1 1376.8 364.3"/><path d="M1385.1 349.8 C1385.4 351.1 1386.1 355.8 1387.1 357.4 C1388.1 359.0 1389.7 360.1 1391.2 359.4 C1392.6 358.7 1394.5 355.7 1395.7 353.4 C1396.9 351.0 1398.2 344.9 1398.4 345.3 C1398.6 345.6 1397.3 352.5 1396.7 355.4 C1396.1 358.2 1395.2 360.3 1394.7 362.4 C1394.2 364.5 1393.8 367.1 1393.7 368.0"/><path d="M1398.4 348.3 C1399.1 347.8 1400.8 346.2 1402.3 345.3 C1403.7 344.4 1406.0 342.9 1407.3 343.1 C1408.6 343.2 1409.8 344.7 1409.8 346.3 C1409.8 347.9 1408.4 351.3 1407.3 352.9 C1406.2 354.4 1404.4 355.5 1403.3 355.4 C1402.1 355.3 1400.2 353.8 1400.2 352.3 C1400.2 350.9 1401.7 348.0 1403.3 346.8 C1404.8 345.6 1407.6 345.6 1409.3 345.3 C1411.0 344.9 1412.7 344.9 1413.4 344.8"/><path d="M1413.4 344.8 C1413.6 345.5 1414.0 348.6 1414.9 349.3 C1415.7 350.0 1417.1 349.8 1418.4 348.8 C1419.7 347.8 1421.4 345.1 1422.4 343.3 C1423.5 341.4 1424.2 337.5 1424.7 337.7 C1425.1 337.9 1424.5 342.8 1425.0 344.3 C1425.4 345.7 1426.3 346.9 1427.5 346.3 C1428.7 345.7 1431.3 341.7 1432.0 340.7"/><path d="M1432.0 340.7 C1431.9 338.8 1431.5 331.6 1431.5 329.1 C1431.6 326.7 1431.6 325.7 1432.3 325.9 C1433.1 326.1 1434.9 328.1 1436.1 330.1 C1437.3 332.2 1438.2 337.3 1439.6 338.2 C1441.0 339.1 1443.4 336.5 1444.6 335.7 C1445.9 334.9 1446.5 333.6 1446.9 333.2"/><path d="M1307.1 432.0 C1307.1 430.0 1306.5 420.9 1307.1 419.8 C1307.6 418.7 1309.3 423.6 1310.3 425.3 C1311.2 427.0 1312.7 428.6 1312.8 430.0 C1313.0 431.3 1312.0 432.7 1311.3 433.4 C1310.6 434.1 1309.1 434.3 1308.5 434.2 C1307.8 434.1 1306.9 433.2 1307.3 433.0 C1307.7 432.8 1309.6 433.4 1310.9 433.0 C1312.3 432.7 1314.1 432.3 1315.4 430.7 C1316.7 429.2 1317.8 425.6 1318.6 423.8 C1319.5 422.0 1320.1 419.8 1320.5 419.8 C1321.0 419.8 1321.2 422.3 1321.3 423.8 C1321.4 425.3 1320.8 429.1 1321.2 428.7 C1321.6 428.2 1322.9 423.1 1323.8 421.2 C1324.6 419.3 1325.8 417.0 1326.3 417.2 C1326.8 417.5 1326.7 420.8 1326.7 422.5 C1326.7 424.2 1326.0 428.1 1326.3 427.5 C1326.7 427.0 1328.1 421.5 1328.9 419.3 C1329.7 417.1 1330.6 414.6 1331.3 414.6 C1332.0 414.6 1332.4 417.7 1333.1 419.3 C1333.9 420.9 1335.0 424.5 1336.0 424.3 C1336.9 424.1 1337.8 420.2 1338.8 418.0 C1339.7 415.9 1341.2 411.7 1341.6 411.5 C1342.0 411.2 1340.8 415.4 1341.2 416.3 C1341.6 417.3 1343.0 417.7 1344.0 417.1 C1345.1 416.6 1346.7 416.4 1347.4 413.0 C1348.1 409.6 1347.5 400.4 1348.2 396.6 C1348.8 392.8 1350.7 390.3 1351.5 390.3 C1352.3 390.3 1353.2 393.5 1353.2 396.6 C1353.2 399.7 1352.0 405.9 1351.5 408.9 C1351.0 411.9 1349.9 413.7 1350.3 414.7 C1350.8 415.6 1352.9 415.3 1354.1 414.7 C1355.2 414.1 1356.0 413.5 1357.1 411.0 C1358.3 408.4 1360.1 400.8 1361.0 399.4 C1361.9 398.0 1362.6 401.2 1362.4 402.4 C1362.2 403.5 1360.3 404.8 1359.7 406.5 C1359.1 408.1 1358.5 411.4 1358.9 412.2 C1359.4 413.1 1360.8 412.6 1362.3 411.3 C1363.8 410.1 1366.8 407.5 1368.1 404.8 C1369.3 402.1 1369.2 396.7 1369.7 394.9 C1370.3 393.1 1370.6 393.0 1371.4 394.0 C1372.2 395.0 1373.8 398.9 1374.6 400.7 C1375.4 402.5 1376.4 403.7 1376.3 404.8 C1376.1 405.9 1373.2 407.4 1373.8 407.2 C1374.5 407.1 1379.0 404.4 1380.0 403.9"/><path d="M1406.5 384.6 C1405.5 384.7 1402.7 384.3 1400.9 385.5 C1399.0 386.7 1396.6 389.8 1395.5 391.7 C1394.4 393.7 1393.9 396.3 1394.3 397.5 C1394.7 398.7 1396.3 399.5 1397.9 398.9 C1399.5 398.3 1402.4 396.0 1403.8 393.9 C1405.3 391.8 1406.5 386.3 1406.8 386.1 C1407.1 385.9 1405.5 391.2 1405.6 392.7 C1405.8 394.2 1406.7 395.7 1407.7 395.3 C1408.6 394.9 1410.2 392.1 1411.2 390.3 C1412.2 388.5 1413.0 385.0 1413.6 384.3 C1414.2 383.7 1414.7 385.3 1414.8 386.1 C1415.0 387.0 1413.8 389.6 1414.6 389.4 C1415.3 389.1 1418.3 384.8 1419.3 384.6 C1420.4 384.4 1419.9 388.2 1421.1 388.2 C1422.3 388.1 1424.8 386.5 1426.5 384.3 C1428.2 382.2 1431.1 376.4 1431.3 375.0 C1431.5 373.7 1428.8 375.0 1427.7 376.2 C1426.5 377.4 1424.7 380.7 1424.4 382.2 C1424.0 383.8 1424.6 385.4 1425.5 385.5 C1426.5 385.7 1428.6 385.1 1430.1 383.2 C1431.6 381.2 1433.6 377.4 1434.6 373.6 C1435.6 369.8 1435.9 363.8 1436.0 360.5 C1436.2 357.2 1435.8 353.3 1435.6 353.9 C1435.3 354.5 1434.9 360.5 1434.6 364.1 C1434.3 367.7 1433.6 372.6 1433.9 375.4 C1434.2 378.2 1435.4 380.1 1436.6 380.8 C1437.8 381.5 1439.6 380.6 1441.0 379.6 C1442.5 378.6 1444.6 375.6 1445.3 374.8"/><path d="M1321.4 466.4 C1321.3 464.4 1320.3 455.9 1320.8 454.4 C1321.3 453.0 1323.2 456.5 1324.4 457.6 C1325.6 458.8 1327.4 460.2 1327.8 461.5 C1328.3 462.8 1327.9 464.5 1326.9 465.6 C1326.0 466.7 1323.3 468.0 1322.3 468.2 C1321.4 468.4 1320.8 467.0 1321.3 466.9 C1321.8 466.8 1323.9 467.7 1325.4 467.4 C1326.9 467.1 1329.0 467.2 1330.4 465.3 C1331.8 463.5 1332.9 459.6 1333.8 456.4 C1334.6 453.1 1335.2 449.3 1335.7 446.1 C1336.1 442.9 1336.8 437.1 1336.6 437.1 C1336.4 437.1 1334.9 442.8 1334.4 446.1 C1333.9 449.4 1333.0 454.4 1333.4 457.0 C1333.7 459.6 1335.1 461.4 1336.3 461.5 C1337.6 461.6 1339.6 459.2 1340.8 457.6 C1342.0 456.0 1342.4 453.6 1343.6 451.9 C1344.9 450.1 1347.1 447.7 1348.5 447.4 C1349.9 447.0 1351.8 448.3 1352.1 449.7 C1352.4 451.1 1351.6 454.4 1350.4 455.7 C1349.2 457.0 1346.1 457.7 1344.9 457.4 C1343.7 457.1 1342.7 455.1 1343.1 453.8 C1343.5 452.4 1345.6 450.1 1347.2 449.3 C1348.9 448.5 1351.3 449.4 1353.0 448.9 C1354.7 448.4 1356.1 447.9 1357.5 446.1 C1358.9 444.3 1361.1 439.8 1361.6 438.1 C1362.1 436.4 1359.9 435.6 1360.3 435.8 C1360.7 436.0 1362.8 437.8 1363.9 439.4 C1365.1 441.0 1366.0 445.0 1367.1 445.4 C1368.3 445.9 1369.8 443.6 1371.0 442.2 C1372.1 440.9 1373.5 437.2 1373.9 437.2 C1374.3 437.3 1373.1 441.3 1373.4 442.5 C1373.8 443.7 1375.0 444.6 1376.1 444.5 C1377.2 444.5 1378.7 443.6 1380.0 442.2 C1381.3 440.9 1382.8 438.4 1383.8 436.5 C1384.8 434.5 1386.0 431.7 1386.0 430.7 C1386.0 429.6 1384.4 429.1 1383.6 430.2 C1382.7 431.2 1381.4 434.8 1381.0 437.1 C1380.6 439.4 1380.6 442.8 1381.4 443.8 C1382.2 444.8 1384.6 443.4 1385.7 443.0 C1386.9 442.6 1387.1 443.2 1388.1 441.5 C1389.0 439.7 1390.6 435.5 1391.7 432.6 C1392.7 429.7 1393.3 424.5 1394.5 424.0 C1395.6 423.5 1397.5 427.7 1398.6 429.4 C1399.7 431.1 1401.2 432.7 1401.2 434.1 C1401.2 435.6 1399.8 437.2 1398.6 438.1 C1397.4 439.0 1393.9 439.5 1394.1 439.4 C1394.3 439.3 1397.6 439.0 1399.9 437.4 C1402.1 435.7 1406.4 431.0 1407.7 429.8"/><path d="M1328.2 450.2 C1329.3 449.8 1332.2 448.7 1334.4 448.0 C1336.6 447.3 1340.3 446.2 1341.5 445.8"/></g><circle cx="1342.2" cy="403.5" r="1.3" fill="#0a0a0a"/><circle cx="1375.7" cy="429.5" r="1.3" fill="#0a0a0a"/>

</svg>
</body></html>
